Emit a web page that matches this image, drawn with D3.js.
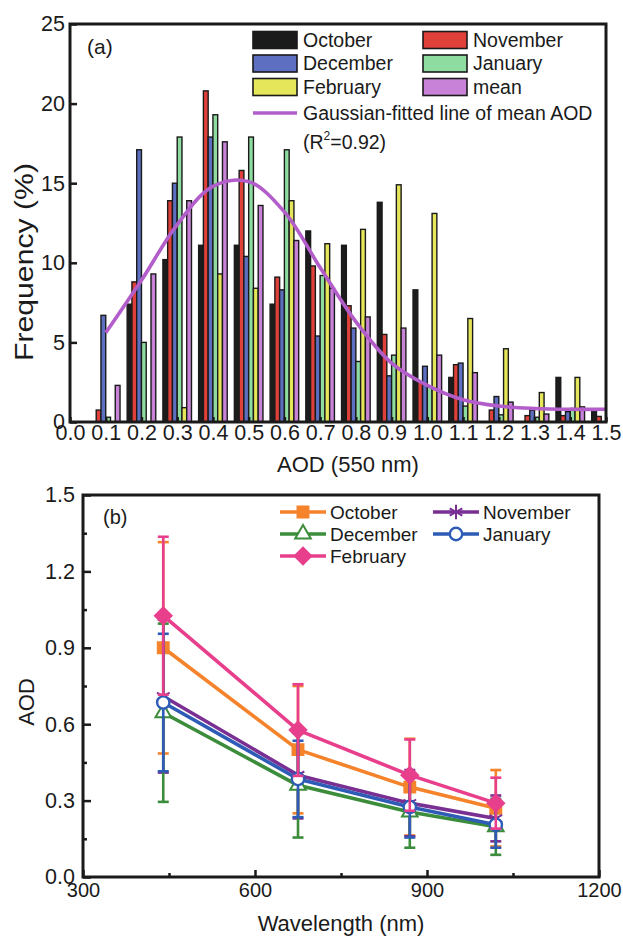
<!DOCTYPE html>
<html>
<head>
<meta charset="utf-8">
<script src="https://cdn.jsdelivr.net/npm/d3@7"></script>
<style>
  body { margin: 0; background: #fff; }
  text { font-family: "Liberation Sans", Arial, sans-serif; fill: #1a1a1a; }
</style>
</head>
<body>
<svg id="fig" width="623" height="936"></svg>
<script>
// ---------- (a) AOD frequency histogram ----------
const aodBins = [0.1, 0.2, 0.3, 0.4, 0.5, 0.6, 0.7, 0.8, 0.9, 1.0, 1.1, 1.2, 1.3, 1.4, 1.5];
const monthNames = ["October", "November", "December", "January", "February", "mean"];
const freqOctober  = [0, 7.4, 10.2, 11.1, 11.1, 7.4, 12.0, 11.1, 13.8, 8.3, 2.8, 0, 0, 2.8, 0.75];
const freqNovember = [0.75, 8.8, 13.9, 20.8, 15.8, 9.1, 9.8, 7.3, 5.5, 2.5, 3.6, 0.75, 0.4, 0.4, 0.35];
const freqDecember = [6.7, 17.1, 15.0, 17.9, 10.4, 8.3, 5.4, 5.9, 2.9, 3.5, 3.7, 1.6, 0.75, 0.65, 0];
const freqJanuary  = [0.3, 5.0, 17.9, 19.3, 17.9, 17.1, 9.2, 3.8, 4.2, 2.2, 1.0, 0.45, 0.3, 0.85, 0];
const freqFebruary = [0, 0, 0.9, 9.3, 8.4, 13.9, 11.2, 12.1, 14.9, 13.1, 6.5, 4.6, 1.85, 2.8, 0];
const freqMean     = [2.3, 9.3, 13.9, 17.6, 13.6, 11.4, 8.4, 6.6, 5.9, 4.2, 3.1, 1.25, 0.5, 0.95, 0.3];

// Gaussian-fitted curve of the mean distribution, sampled at the bin centres
const fitAod  = [0.1, 0.2, 0.3, 0.4, 0.5, 0.6, 0.7, 0.8, 0.9, 1.0, 1.1, 1.2, 1.3, 1.4, 1.5];
const fitFreq = [5.6, 8.9, 12.4, 14.8, 15.1, 13.2, 9.7, 6.3, 3.7, 2.3, 1.4, 1.0, 0.85, 0.8, 0.8];
const fitR2 = "0.92";

const aodTicks  = [0, 0.1, 0.2, 0.3, 0.4, 0.5, 0.6, 0.7, 0.8, 0.9, 1.0, 1.1, 1.2, 1.3, 1.4, 1.5];
const freqTicks = [0, 5, 10, 15, 20, 25];

// ---------- (b) spectral AOD ----------
const wavelengths = [440, 675, 870, 1020];
const aodOctober  = [0.90, 0.50, 0.353, 0.27];
const sdOctober   = [0.415, 0.25, 0.19, 0.15];
const aodNovember = [0.71, 0.40, 0.29, 0.23];
const sdNovember  = [0.30, 0.17, 0.13, 0.09];
const aodDecember = [0.645, 0.36, 0.255, 0.197];
const sdDecember  = [0.35, 0.205, 0.14, 0.11];
const aodJanuary  = [0.685, 0.385, 0.275, 0.205];
const sdJanuary   = [0.27, 0.15, 0.12, 0.09];
const aodFebruary = [1.026, 0.577, 0.40, 0.29];
const sdFebruary  = [0.31, 0.18, 0.14, 0.10];

const wlTicks = [300, 600, 900, 1200];
const wlMinorTicks = [450, 750, 1050];
const aodYTicks = [0, 0.3, 0.6, 0.9, 1.2, 1.5];
const aodYMinorTicks = [0.15, 0.45, 0.75, 1.05, 1.35];

// ---------- drawing ----------
const FONT = '"Liberation Sans", Arial, sans-serif';
const INK = "#1a1a1a";
const svg = d3.select("#fig");
svg.append("rect").attr("width", 623).attr("height", 936).attr("fill", "#fff");
const defs = svg.append("defs");

function styleAxis(g, fontSize, tickWidth) {
  g.select(".domain").remove();
  g.attr("font-family", FONT).attr("font-size", fontSize);
  g.selectAll(".tick line").attr("stroke", INK).attr("stroke-width", tickWidth);
  g.selectAll(".tick text").attr("fill", INK);
}

/* ---- panel (a) ---- */
const A = { left: 70, right: 606, top: 24, bottom: 422 };
const xA = d3.scaleLinear().domain([0, 1.5]).range([A.left, A.right]);
const yA = d3.scaleLinear().domain([0, 25]).range([A.bottom, A.top]);

defs.append("clipPath").attr("id", "clipA")
  .append("rect").attr("x", A.left).attr("y", A.top)
  .attr("width", A.right - A.left).attr("height", A.bottom - A.top);

const histSeries = [
  { name: "October",  values: freqOctober,  fill: "#1c1c1c" },
  { name: "November", values: freqNovember, fill: "#e0403a" },
  { name: "December", values: freqDecember, fill: "#5d6fc0" },
  { name: "January",  values: freqJanuary,  fill: "#8fdca0" },
  { name: "February", values: freqFebruary, fill: "#e6e65a" },
  { name: "mean",     values: freqMean,     fill: "#c882d8" }
];
const groupW = xA(0.08) - xA(0);
const inner = d3.scaleBand().domain(monthNames).range([-groupW / 2, groupW / 2]);

const barLayer = svg.append("g").attr("clip-path", "url(#clipA)");
histSeries.forEach(s => {
  barLayer.append("g").selectAll("rect")
    .data(aodBins.map((b, i) => ({ b, v: s.values[i] })).filter(d => d.v > 0))
    .join("rect")
    .attr("x", d => xA(d.b) + inner(s.name))
    .attr("width", inner.bandwidth())
    .attr("y", d => yA(d.v))
    .attr("height", d => yA(0) - yA(d.v))
    .attr("fill", s.fill)
    .attr("stroke", INK)
    .attr("stroke-width", 1.4);
});

const fitLine = d3.line().x((d, i) => xA(fitAod[i])).y(d => yA(d)).curve(d3.curveCatmullRom.alpha(0.5));
barLayer.append("path").datum(fitFreq)
  .attr("d", fitLine).attr("fill", "none")
  .attr("stroke", "#b25dca").attr("stroke-width", 3.6);

const axA_x = svg.append("g").attr("transform", `translate(0,${A.bottom})`)
  .call(d3.axisBottom(xA).tickValues(aodTicks).tickFormat(d3.format(".1f"))
    .tickSizeInner(-5).tickSizeOuter(0).tickPadding(3));
styleAxis(axA_x, 21.5, 2.5);
const axA_y = svg.append("g").attr("transform", `translate(${A.left},0)`)
  .call(d3.axisLeft(yA).tickValues(freqTicks).tickFormat(d3.format("d"))
    .tickSizeInner(-7).tickSizeOuter(0).tickPadding(5));
styleAxis(axA_y, 21.5, 2.5);

svg.append("rect").attr("x", A.left).attr("y", A.top)
  .attr("width", A.right - A.left).attr("height", A.bottom - A.top)
  .attr("fill", "none").attr("stroke", INK).attr("stroke-width", 3);

svg.append("text").attr("x", 87).attr("y", 54).attr("font-size", 21).text("(a)");

svg.append("text").attr("x", 348).attr("y", 472).attr("text-anchor", "middle")
  .attr("font-size", 22).text("AOD (550 nm)");
svg.append("text").attr("transform", "translate(33,262) rotate(-90)")
  .attr("text-anchor", "middle").attr("font-size", 25)
  .attr("textLength", 198).attr("lengthAdjust", "spacingAndGlyphs")
  .text("Frequency (%)");

// legend (a)
const legA = svg.append("g").attr("font-size", 19.5);
const legAPos = [
  { col: 0, row: 0 }, { col: 1, row: 0 },
  { col: 0, row: 1 }, { col: 1, row: 1 },
  { col: 0, row: 2 }, { col: 1, row: 2 }
];
const legAColX = [253, 423], legARowY = [40, 63.5, 87];
histSeries.forEach((s, i) => {
  const p = legAPos[i];
  const x = legAColX[p.col], y = legARowY[p.row];
  legA.append("rect").attr("x", x).attr("y", y - 8.5).attr("width", 44).attr("height", 17)
    .attr("fill", s.fill).attr("stroke", INK).attr("stroke-width", 1.6);
  legA.append("text").attr("x", x + 50).attr("y", y).attr("dy", "0.35em").text(s.name);
});
legA.append("line").attr("x1", 253).attr("x2", 297).attr("y1", 113).attr("y2", 113)
  .attr("stroke", "#b25dca").attr("stroke-width", 3.6);
legA.append("text").attr("x", 303).attr("y", 113).attr("dy", "0.35em")
  .text("Gaussian-fitted line of mean AOD");
const r2 = legA.append("text").attr("x", 303).attr("y", 142).attr("dy", "0.35em");
r2.append("tspan").text("(R");
r2.append("tspan").attr("font-size", 12).attr("dy", "-0.7em").text("2");
r2.append("tspan").attr("dy", "0.45em").text(`=${fitR2})`);

/* ---- panel (b) ---- */
const B = { left: 83, right: 599, top: 495, bottom: 877 };
const xB = d3.scaleLinear().domain([300, 1200]).range([B.left, B.right]);
const yB = d3.scaleLinear().domain([0, 1.5]).range([B.bottom, B.top]);

const specSeries = [
  { name: "October",  aod: aodOctober,  sd: sdOctober,  color: "#f5832c", marker: "square" },
  { name: "November", aod: aodNovember, sd: sdNovember, color: "#7a2f92", marker: "asterisk" },
  { name: "December", aod: aodDecember, sd: sdDecember, color: "#3b8c3b", marker: "triangle" },
  { name: "January",  aod: aodJanuary,  sd: sdJanuary,  color: "#2d5bb6", marker: "circle" },
  { name: "February", aod: aodFebruary, sd: sdFebruary, color: "#e83f8c", marker: "diamond" }
];

// a square turned 45 degrees, as the plotting program draws its diamond
const squareDiamond = {
  draw(ctx, size) {
    const r = Math.sqrt(size / 2);
    ctx.moveTo(0, -r); ctx.lineTo(r, 0); ctx.lineTo(0, r); ctx.lineTo(-r, 0); ctx.closePath();
  }
};

function drawMarker(g, type, color, x, y) {
  let sym, fill = color, stroke = color, sw = 1.5;
  if (type === "square")   sym = d3.symbol(d3.symbolSquare, 130);
  if (type === "diamond")  sym = d3.symbol(squareDiamond, 150);
  if (type === "triangle") { sym = d3.symbol(d3.symbolTriangle, 105); fill = "#fff"; sw = 2; }
  if (type === "circle")   { sym = d3.symbol(d3.symbolCircle, 120); fill = "#fff"; sw = 2.4; }
  if (type === "asterisk") { sym = d3.symbol(d3.symbolAsterisk, 150); fill = "none"; sw = 2; }
  g.append("path").attr("d", sym()).attr("transform", `translate(${x},${y})`)
    .attr("fill", fill).attr("stroke", stroke).attr("stroke-width", sw);
}

const lineB = d3.line().x((d, i) => xB(wavelengths[i])).y(d => yB(d));
const plotB = svg.append("g");
specSeries.forEach(s => {
  const g = plotB.append("g");
  wavelengths.forEach((w, i) => {
    const x = xB(w), lo = yB(s.aod[i] - s.sd[i]), hi = yB(s.aod[i] + s.sd[i]);
    g.append("line").attr("x1", x).attr("x2", x).attr("y1", lo).attr("y2", hi)
      .attr("stroke", s.color).attr("stroke-width", 2.6);
    [lo, hi].forEach(yy => g.append("line").attr("x1", x - 5.5).attr("x2", x + 5.5)
      .attr("y1", yy).attr("y2", yy).attr("stroke", s.color).attr("stroke-width", 2.6));
  });
  g.append("path").datum(s.aod).attr("d", lineB).attr("fill", "none")
    .attr("stroke", s.color).attr("stroke-width", 3.6).attr("stroke-linejoin", "round");
  wavelengths.forEach((w, i) => drawMarker(g, s.marker, s.color, xB(w), yB(s.aod[i])));
});

const axB_x = svg.append("g").attr("transform", `translate(0,${B.bottom})`)
  .call(d3.axisBottom(xB).tickValues(wlTicks).tickFormat(d3.format("d"))
    .tickSizeInner(-7).tickSizeOuter(0).tickPadding(6));
styleAxis(axB_x, 20, 2.5);
const axB_xm = svg.append("g").attr("transform", `translate(0,${B.bottom})`)
  .call(d3.axisBottom(xB).tickValues(wlMinorTicks).tickFormat("").tickSizeInner(-4).tickSizeOuter(0));
styleAxis(axB_xm, 20, 2.5);
const axB_y = svg.append("g").attr("transform", `translate(${B.left},0)`)
  .call(d3.axisLeft(yB).tickValues(aodYTicks).tickFormat(d3.format(".1f"))
    .tickSizeInner(-8).tickSizeOuter(0).tickPadding(8));
styleAxis(axB_y, 21.5, 2.5);
const axB_ym = svg.append("g").attr("transform", `translate(${B.left},0)`)
  .call(d3.axisLeft(yB).tickValues(aodYMinorTicks).tickFormat("").tickSizeInner(-4).tickSizeOuter(0));
styleAxis(axB_ym, 21.5, 2.5);

svg.append("rect").attr("x", B.left).attr("y", B.top)
  .attr("width", B.right - B.left).attr("height", B.bottom - B.top)
  .attr("fill", "none").attr("stroke", INK).attr("stroke-width", 3);

svg.append("text").attr("x", 103).attr("y", 524).attr("font-size", 20).text("(b)");
svg.append("text").attr("x", 341).attr("y", 931).attr("text-anchor", "middle")
  .attr("font-size", 22).text("Wavelength (nm)");
svg.append("text").attr("transform", "translate(34,702) rotate(-90)")
  .attr("text-anchor", "middle").attr("font-size", 22).text("AOD");

// legend (b)
const legB = svg.append("g").attr("font-size", 19);
const legBSlots = [
  { x: 280, y: 512 }, { x: 433, y: 512 },
  { x: 280, y: 534 }, { x: 433, y: 534 },
  { x: 280, y: 556 }
];
specSeries.forEach((s, i) => {
  const p = legBSlots[i];
  legB.append("line").attr("x1", p.x).attr("x2", p.x + 46).attr("y1", p.y).attr("y2", p.y)
    .attr("stroke", s.color).attr("stroke-width", 3.6);
  drawMarker(legB, s.marker, s.color, p.x + 23, p.y);
  legB.append("text").attr("x", p.x + 50).attr("y", p.y).attr("dy", "0.35em").text(s.name);
});
</script>
</body>
</html>
